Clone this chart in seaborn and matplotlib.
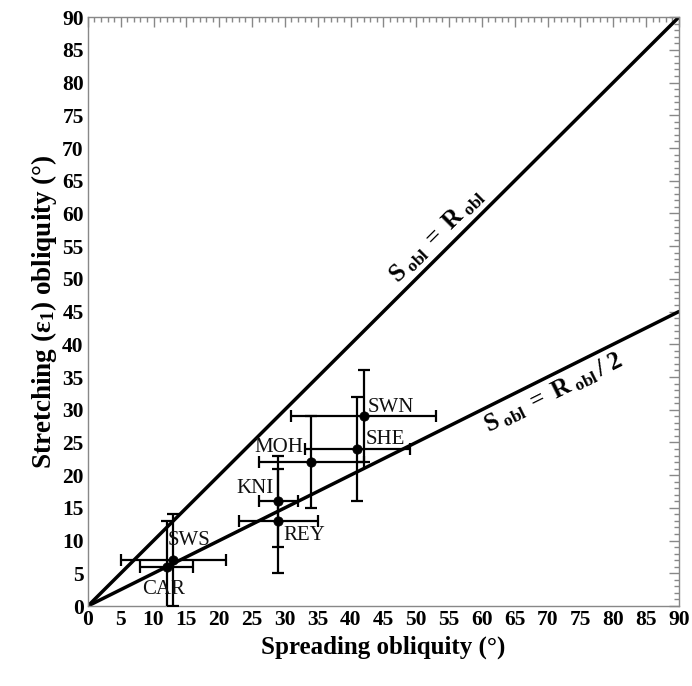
import matplotlib
matplotlib.use("Agg")
import matplotlib.pyplot as plt
import seaborn as sns
import numpy as np
import pandas as pd
from matplotlib.ticker import MultipleLocator

# ---- data ----
sites = ["CAR", "SWS", "KNI", "REY", "MOH", "SHE", "SWN"]
spreading = [12, 13, 29, 29, 34, 41, 42]
stretching = [6, 7, 16, 13, 22, 24, 29]
spreading_err = [4, 8, 3, 6, 8, 8, 11]
stretching_err = [7, 7, 7, 8, 7, 8, 7]
label_pos = {
    "CAR": (11.6, 2.6, "center"),
    "SWS": (12.2, 10.0, "left"),
    "KNI": (28.3, 18.0, "right"),
    "REY": (29.8, 10.8, "left"),
    "MOH": (32.8, 24.3, "right"),
    "SHE": (42.3, 25.5, "left"),
    "SWN": (42.6, 30.4, "left"),
}
ref_x = [0, 90]
ref_one = [0, 90]
ref_half = [0, 45]
ticks = list(range(0, 91, 5))

sns.set_theme(style="white")
plt.rcParams["font.family"] = ["Liberation Serif", "DejaVu Serif"]
plt.rcParams["text.color"] = "black"
plt.rcParams["axes.labelcolor"] = "black"
plt.rcParams["xtick.labelcolor"] = "black"
plt.rcParams["ytick.labelcolor"] = "black"
plt.rcParams["mathtext.fontset"] = "custom"
plt.rcParams["mathtext.rm"] = "Liberation Serif"
plt.rcParams["mathtext.bf"] = "Liberation Serif:bold"
plt.rcParams["mathtext.it"] = "Liberation Serif:italic"

fig = plt.figure(figsize=(6.92, 6.86), dpi=100)
ax = fig.add_axes([0.127, 0.1166, 0.854, 0.8584])

df = pd.DataFrame({"x": spreading, "y": stretching, "site": sites})
lines = pd.DataFrame({"x": ref_x + ref_x,
                      "y": ref_one + ref_half,
                      "rel": ["one"] * 2 + ["half"] * 2})

sns.lineplot(data=lines, x="x", y="y", units="rel", estimator=None,
             color="black", lw=2.5, ax=ax, legend=False)

ax.errorbar(spreading, stretching, xerr=spreading_err, yerr=stretching_err,
            fmt="none", ecolor="black", elinewidth=1.6, capsize=4, capthick=1.6,
            zorder=3)
sns.scatterplot(data=df, x="x", y="y", color="black", s=45, edgecolor="black",
                ax=ax, zorder=4, legend=False)

for s in sites:
    lx, ly, ha = label_pos[s]
    ax.text(lx, ly, s, ha=ha, va="center", fontsize=15, color="#111111",
            zorder=5)

ax.text(54.5, 55.3, r"$\mathbf{S}_{\mathbf{\ obl}}\ \mathbf{=\ R}_{\mathbf{\ obl}}$",
        rotation=45, transform_rotates_text=True, rotation_mode="anchor",
        ha="center", va="bottom", fontsize=18)
ax.text(70.0, 34.2, r"$\mathbf{S}_{\mathbf{\ obl}}\ \mathbf{=\ R}_{\mathbf{\ obl}}\,\mathbf{/\ 2}$",
        rotation=np.degrees(np.arctan(0.5)), transform_rotates_text=True,
        rotation_mode="anchor", ha="center", va="top", fontsize=18)

ax.set_xlim(0, 90)
ax.set_ylim(0, 90)
ax.set_xticks(ticks)
ax.set_yticks(ticks)
ax.xaxis.set_minor_locator(MultipleLocator(1))
ax.yaxis.set_minor_locator(MultipleLocator(1))
ax.tick_params(which="both", direction="in", top=True, right=True,
               color="#888888", width=1)
ax.tick_params(which="major", length=7, labelsize=15.5, pad=3)
ax.tick_params(which="minor", length=3.5)
for lab in ax.get_xticklabels() + ax.get_yticklabels():
    lab.set_fontweight("bold")
for sp in ax.spines.values():
    sp.set_color("#888888")
    sp.set_linewidth(1)

ax.set_xlabel("Spreading obliquity (°)", fontsize=18, fontweight="bold",
              labelpad=4)
ax.set_ylabel(r"Stretching (ε$\mathbf{_1}$) obliquity (°)", fontsize=19.5,
              fontweight="bold", labelpad=2)

fig.savefig("out.png", dpi=100)
